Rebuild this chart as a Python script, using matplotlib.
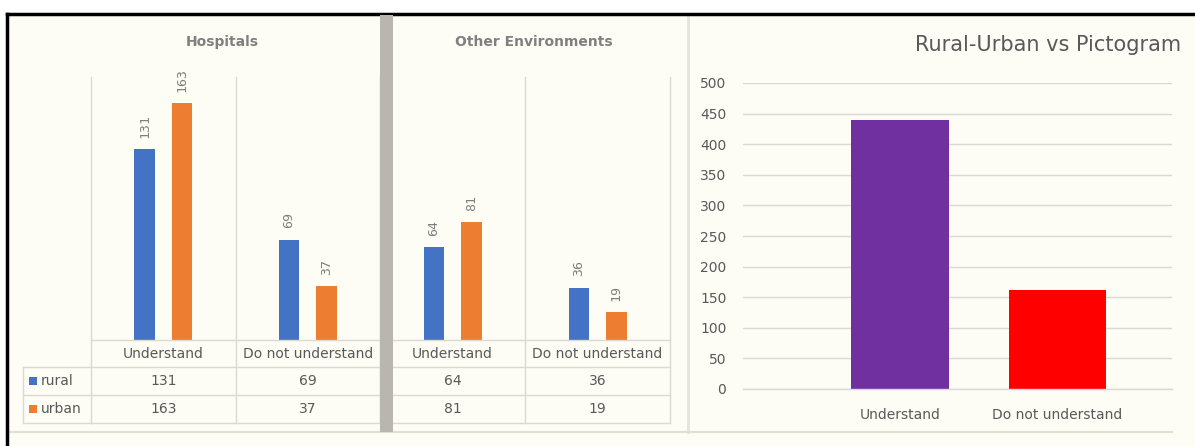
import matplotlib.pyplot as plt
import numpy as np
from matplotlib.lines import Line2D
from matplotlib.patches import Rectangle

# -------------
# Data
# -------------
categories = ["Understand", "Do not understand"]
series_names = ["rural", "urban"]
hospitals_rural = [131, 69]
hospitals_urban = [163, 37]
other_rural = [64, 36]
other_urban = [81, 19]
totals = [439, 161]
total_ticks = [0, 50, 100, 150, 200, 250, 300, 350, 400, 450, 500]

BLUE = "#4472c4"
ORANGE = "#ed7d31"
PURPLE = "#7030a0"
RED = "#ff0000"
BG = "#fdfcf5"
GRID = "#dcd8d2"
TXT = "#595959"

W, H = 1195, 446


def fx(x):
    return x / W


def fy(y):
    return 1 - y / H


def box(x0, y0, x1, y1):
    # pixel box (top-left origin) -> axes rect
    return [fx(x0), fy(y1), fx(x1) - fx(x0), fy(y0) - fy(y1)]


def hline(fig, x0, x1, y, color=GRID, lw=1.0):
    fig.add_artist(Line2D([fx(x0), fx(x1)], [fy(y), fy(y)], color=color, lw=lw))


def vline(fig, x, y0, y1, color=GRID, lw=1.0):
    fig.add_artist(Line2D([fx(x), fx(x)], [fy(y0), fy(y1)], color=color, lw=lw))


fig = plt.figure(figsize=(W / 100, H / 100), dpi=100)
fig.patch.set_facecolor("white")
fig.add_artist(Rectangle((fx(8), 0), 1 - fx(8), fy(15), facecolor=BG,
                         edgecolor="none", zorder=-5))


# -------------
# Grouped panels with data table
# -------------
def panel(x0, x1, rural, urban, title, title_x, row_labels):
    ax = fig.add_axes(box(x0, 78, x1, 340))
    ax.set_facecolor("none")
    x = np.arange(len(categories))
    w = 0.14
    b1 = ax.bar(x - 0.13, rural, w, color=BLUE)
    b2 = ax.bar(x + 0.13, urban, w, color=ORANGE)
    for bars in (b1, b2):
        for rect in bars:
            ax.annotate(str(int(rect.get_height())),
                        (rect.get_x() + rect.get_width() / 2, rect.get_height()),
                        xytext=(0, 8), textcoords="offset points",
                        rotation=90, ha="center", va="bottom",
                        fontsize=9.5, color="#7f7f7f", family="DejaVu Sans Mono")
    ax.set_xlim(-0.5, len(categories) - 0.5)
    ax.set_ylim(0, 180)
    ax.axis("off")

    fig.text(fx(title_x), fy(42), title, ha="center", va="center",
             fontsize=10, fontweight="bold", color="#808080")

    # category boundaries run through the table
    n = len(categories)
    col_w = (x1 - x0) / n
    for i in range(n + 1):
        vline(fig, x0 + i * col_w, 77, 423)
    for y in (340, 367, 395, 423):
        hline(fig, x0, x1, y)

    for i, cat in enumerate(categories):
        cx = x0 + (i + 0.5) * col_w
        fig.text(fx(cx), fy(354), cat, ha="center", va="center",
                 fontsize=10, color=TXT)
        fig.text(fx(cx), fy(381), str(rural[i]), ha="center", va="center",
                 fontsize=10, color=TXT)
        fig.text(fx(cx), fy(409), str(urban[i]), ha="center", va="center",
                 fontsize=10, color=TXT)

    if row_labels:
        for y in (367, 395, 423):
            hline(fig, 23, x0, y)
        vline(fig, 23, 367, 423)
        for (name, col), y in zip(zip(series_names, (BLUE, ORANGE)), (381, 409)):
            fig.add_artist(Rectangle((fx(29), fy(y + 4)), fx(8), fy(0) - fy(8),
                                     facecolor=col, edgecolor="none"))
            fig.text(fx(41), fy(y), name, ha="left", va="center",
                     fontsize=10, color=TXT)


panel(91, 380, hospitals_rural, hospitals_urban, "Hospitals", 222, True)
panel(380, 670, other_rural, other_urban, "Other Environments", 534, False)

# separator between the two small panels
fig.add_artist(Rectangle((fx(380), fy(432)), fx(13), fy(15) - fy(432),
                         facecolor="#b9b5af", edgecolor="none", zorder=5))

# -------------
# Totals chart
# -------------
ax3 = fig.add_axes(box(743, 83, 1172, 389))
ax3.set_facecolor("none")
ax3.bar([0, 1], totals, 0.62, color=[PURPLE, RED], zorder=3)
ax3.set_xlim(-1.0, 1.73)
ax3.set_ylim(0, 500)
ax3.set_yticks(total_ticks)
ax3.yaxis.grid(True, color=GRID, lw=1.0)
ax3.axhline(0, color=GRID, lw=1.0, zorder=4, clip_on=False)
ax3.set_xticks([0, 1])
ax3.set_xticklabels(categories)
ax3.tick_params(length=0, labelsize=10, labelcolor=TXT)
ax3.tick_params(axis="y", pad=12)
ax3.tick_params(axis="x", pad=14)
for s in ax3.spines.values():
    s.set_visible(False)
fig.text(fx(1181), fy(45), "Rural-Urban vs Pictogram", ha="right", va="center",
         fontsize=15, color=TXT)

# frame lines
vline(fig, 688, 15, 432, color="#e8e2de", lw=2)
hline(fig, 10, 1172, 432, color="#e2deda", lw=1.5)
hline(fig, 7, W, 14, color="black", lw=2.5)
vline(fig, 7, 14, H, color="black", lw=2.5)

fig.savefig("out.png", dpi=100, facecolor=fig.get_facecolor())
